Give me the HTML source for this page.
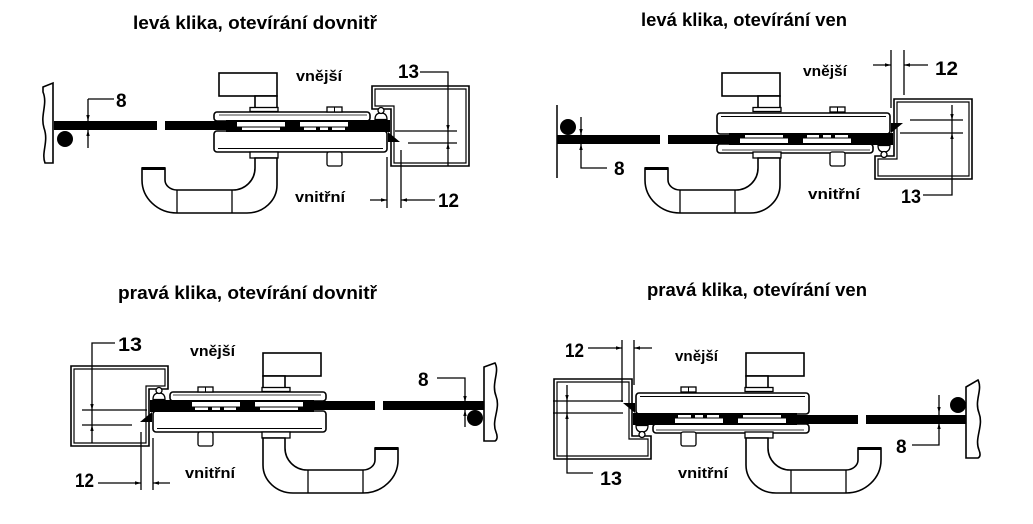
<!DOCTYPE html>
<html><head><meta charset="utf-8"><style>
html,body{margin:0;padding:0;background:#fff;}
svg{display:block;}
text{font-family:"Liberation Sans",sans-serif;font-weight:bold;fill:#000;}
</style></head><body>
<svg width="1033" height="524" viewBox="0 0 1033 524" xmlns="http://www.w3.org/2000/svg">
<defs>
<g id="A">
  <rect x="214" y="112" width="156" height="9" rx="3" fill="#fff" stroke="#000" stroke-width="1.6"/>
  <line x1="219" y1="115" x2="367" y2="115" stroke="#000" stroke-width="0.8"/>
  <rect x="214" y="131" width="173" height="21" rx="3" fill="#fff" stroke="#000" stroke-width="1.6"/>
  <line x1="218" y1="148.5" x2="383" y2="148.5" stroke="#000" stroke-width="1"/>
  <rect x="54" y="121" width="103" height="9" fill="#000"/>
  <rect x="165" y="121" width="65" height="9" fill="#000"/>
  <rect x="226" y="120" width="164" height="12" fill="#000"/>
  <rect x="237" y="122" width="48" height="4.5" fill="#fff"/>
  <rect x="242" y="127.5" width="38" height="2.5" fill="#fff"/>
  <rect x="300" y="122" width="48" height="4.5" fill="#fff"/>
  <rect x="304" y="127.5" width="12" height="2.5" fill="#fff"/>
  <rect x="320" y="127.5" width="8" height="2.5" fill="#fff"/>
  <rect x="332" y="127.5" width="13" height="2.5" fill="#fff"/>
  <path d="M372,86H469V166H391V109H372Z" fill="none" stroke="#000" stroke-width="1.6"/>
  <path d="M375,89H466V163H394V106H375Z" fill="none" stroke="#000" stroke-width="1.2"/>
  <path d="M375,119.5Q375,113 381,113Q387,113 387,119.5Z" fill="#fff" stroke="#000" stroke-width="1.3"/>
  <circle cx="381" cy="110.5" r="3" fill="#fff" stroke="#000" stroke-width="1.3"/>
  <polygon points="388,132 400,142 388,142" fill="#000"/>
</g>
<g id="B">
  <rect x="219" y="73" width="58" height="23" fill="#fff" stroke="#000" stroke-width="1.6"/>
  <rect x="255" y="96" width="22" height="12" fill="#fff" stroke="#000" stroke-width="1.6"/>
  <rect x="250" y="107.5" width="28" height="4" fill="#fff" stroke="#000" stroke-width="1.3"/>
  <rect x="327" y="107" width="15" height="5" fill="#fff" stroke="#000" stroke-width="1.3"/>
  <line x1="334.5" y1="107" x2="334.5" y2="112" stroke="#000" stroke-width="1"/>
  <rect x="250" y="152" width="28" height="6" fill="#fff" stroke="#000" stroke-width="1.3"/>
  <rect x="327" y="152" width="15" height="14" rx="2" fill="#fff" stroke="#000" stroke-width="1.3"/>
  <path d="M277,158V185A30,28 0 0 1 247,213H177A35,33 0 0 1 142,180V168H165V180A12,10 0 0 0 177,190H233A22,22 0 0 0 255,168V158Z" fill="#fff" stroke="#000" stroke-width="1.6"/>
  <rect x="142" y="167" width="23" height="3" fill="#000"/>
  <line x1="177" y1="190" x2="177" y2="213" stroke="#000" stroke-width="1.3"/>
  <line x1="232" y1="190" x2="232" y2="213" stroke="#000" stroke-width="1.3"/>
</g>
</defs>

<use href="#A"/>
<use href="#B"/>
<use href="#A" transform="translate(503,265) scale(1,-1)"/>
<use href="#B" transform="translate(503,0)"/>
<use href="#A" transform="translate(540,280) scale(-1,1)"/>
<use href="#B" transform="translate(540,280) scale(-1,1)"/>
<use href="#A" transform="translate(1023,545) scale(-1,-1)"/>
<use href="#B" transform="translate(1023,280) scale(-1,1)"/>

<path d="M43,87L53,83L53,163L45,163C41,152 49,142 44,128C40,115 48,104 43,92Z" fill="#fff" stroke="#000" stroke-width="1.6"/>
<line x1="557" y1="105" x2="557" y2="178" stroke="#000" stroke-width="1.5"/>
<path d="M484,367L495,363C500,372 491,383 496,396C501,409 491,420 496,432C498,437 497,440 495,441L484,441Z" fill="#fff" stroke="#000" stroke-width="1.6"/>
<path d="M966,387L978,380C983,390 974,400 979,413C984,426 974,438 979,450C981,455 980,457 978,458L966,458Z" fill="#fff" stroke="#000" stroke-width="1.6"/>

<circle cx="65" cy="139" r="8" fill="#000"/>
<circle cx="568" cy="127" r="8" fill="#000"/>
<circle cx="475" cy="418" r="8" fill="#000"/>
<circle cx="958" cy="405" r="8" fill="#000"/>

<path fill="none" stroke="#000" stroke-width="1.3" d="
M88,99V148 M88,99H114 M420,72H448V166 M395,131H457 M408,143H457 M387,157V208 M401,150V208 M370,200H387 M401,200H435
M581,117V168H607 M891,50V108 M904,50V95 M873,65H891 M904,65H928 M952,105V195H923 M900,133H963 M910,120H963
M437,378H465V427 M115,343H92V443 M82,410H147 M82,425H132 M141,432V490 M153,438V490 M98,483H141 M153,483H170
M939,395V445H912 M622,340V402 M634,340V385 M588,348H622 M634,348H652 M567,385V473H593 M553,401H623 M553,413H623"/>

<g fill="#000">
<polygon points="86.3,115 89.7,115 88,121"/>
<polygon points="86.3,136 89.7,136 88,130"/>
<polygon points="446.3,125 449.7,125 448,131"/>
<polygon points="446.3,149 449.7,149 448,143"/>
<polygon points="381,198.3 381,201.7 387,200"/>
<polygon points="407,198.3 407,201.7 401,200"/>
<polygon points="579.3,129 582.7,129 581,135"/>
<polygon points="579.3,150 582.7,150 581,144"/>
<polygon points="885,63.3 885,66.7 891,65"/>
<polygon points="910,63.3 910,66.7 904,65"/>
<polygon points="950.3,114 953.7,114 952,120"/>
<polygon points="950.3,139 953.7,139 952,133"/>
<polygon points="463.3,396 466.7,396 465,402"/>
<polygon points="463.3,416 466.7,416 465,410"/>
<polygon points="90.3,404 93.7,404 92,410"/>
<polygon points="90.3,431 93.7,431 92,425"/>
<polygon points="135,481.3 135,484.7 141,483"/>
<polygon points="159,481.3 159,484.7 153,483"/>
<polygon points="937.3,407 940.7,407 939,413"/>
<polygon points="937.3,429 940.7,429 939,423"/>
<polygon points="616,346.3 616,349.7 622,348"/>
<polygon points="640,346.3 640,349.7 634,348"/>
<polygon points="565.3,395 568.7,395 567,401"/>
<polygon points="565.3,419 568.7,419 567,413"/>
</g>

<text x="133" y="29" font-size="18" textLength="244" lengthAdjust="spacingAndGlyphs">levá klika, otevírání dovnitř</text>
<text x="641" y="26" font-size="18" textLength="206" lengthAdjust="spacingAndGlyphs">levá klika, otevírání ven</text>
<text x="118" y="299" font-size="18" textLength="259" lengthAdjust="spacingAndGlyphs">pravá klika, otevírání dovnitř</text>
<text x="647" y="296" font-size="18" textLength="220" lengthAdjust="spacingAndGlyphs">pravá klika, otevírání ven</text>

<text x="296" y="81" font-size="15" textLength="46" lengthAdjust="spacingAndGlyphs">vnější</text>
<text x="295" y="202" font-size="15" textLength="50" lengthAdjust="spacingAndGlyphs">vnitřní</text>
<text x="803" y="76" font-size="15" textLength="44" lengthAdjust="spacingAndGlyphs">vnější</text>
<text x="808" y="199" font-size="15" textLength="52" lengthAdjust="spacingAndGlyphs">vnitřní</text>
<text x="190" y="356" font-size="15" textLength="45" lengthAdjust="spacingAndGlyphs">vnější</text>
<text x="185" y="478" font-size="15" textLength="50" lengthAdjust="spacingAndGlyphs">vnitřní</text>
<text x="675" y="361" font-size="15" textLength="43" lengthAdjust="spacingAndGlyphs">vnější</text>
<text x="678" y="478" font-size="15" textLength="50" lengthAdjust="spacingAndGlyphs">vnitřní</text>

<text x="116" y="107" font-size="19">8</text>
<text x="398" y="78" font-size="19" textLength="21" lengthAdjust="spacingAndGlyphs">13</text>
<text x="438" y="207" font-size="19" textLength="21" lengthAdjust="spacingAndGlyphs">12</text>
<text x="614" y="175" font-size="19">8</text>
<text x="935" y="75" font-size="19" textLength="23" lengthAdjust="spacingAndGlyphs">12</text>
<text x="901" y="203" font-size="19" textLength="20" lengthAdjust="spacingAndGlyphs">13</text>
<text x="118" y="351" font-size="19" textLength="24" lengthAdjust="spacingAndGlyphs">13</text>
<text x="75" y="487" font-size="19" textLength="19" lengthAdjust="spacingAndGlyphs">12</text>
<text x="418" y="386" font-size="19">8</text>
<text x="565" y="357" font-size="19" textLength="19" lengthAdjust="spacingAndGlyphs">12</text>
<text x="600" y="485" font-size="19" textLength="22" lengthAdjust="spacingAndGlyphs">13</text>
<text x="896" y="453" font-size="19">8</text>
</svg>
</body></html>
